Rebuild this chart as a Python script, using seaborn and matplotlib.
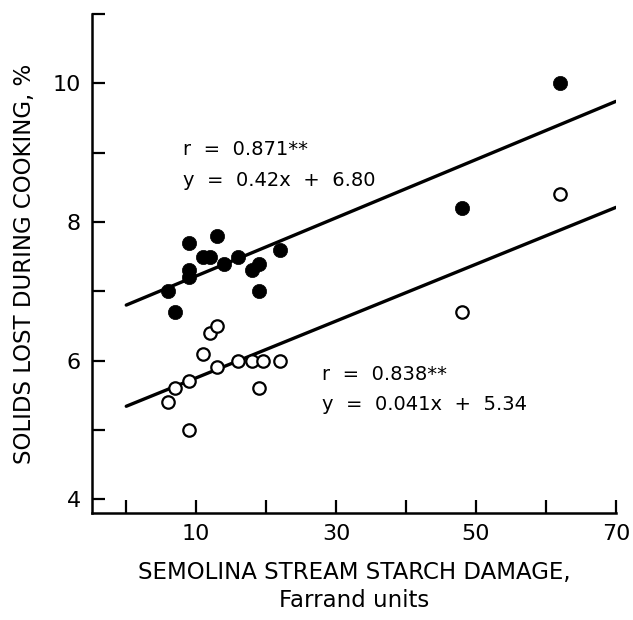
import numpy as np
import pandas as pd
import matplotlib
matplotlib.use("Agg")
import matplotlib.pyplot as plt
import seaborn as sns

# starch damage (Farrand units) and solids lost (%)
filled_x = [6, 7, 9, 9, 9, 11, 12, 13, 14, 16, 18, 19, 19, 22, 48, 62]
filled_y = [7.0, 6.7, 7.7, 7.3, 7.2, 7.5, 7.5, 7.8, 7.4, 7.5, 7.3, 7.4, 7.0, 7.6, 8.2, 10.0]

open_x = [6, 7, 9, 9, 11, 12, 13, 13, 16, 18, 19.5, 22, 19, 48, 62]
open_y = [5.4, 5.6, 5.7, 5.0, 6.1, 6.4, 6.5, 5.9, 6.0, 6.0, 6.0, 6.0, 5.6, 6.7, 8.4]

# fitted lines
fit_x = [0, 70]
upper_slope, upper_icpt = 0.042, 6.80
lower_slope, lower_icpt = 0.041, 5.34

upper_text = "r  =  0.871**\ny  =  0.42x  +  6.80"
lower_text = "r  =  0.838**\ny  =  0.041x  +  5.34"

x_ticks = [0, 10, 20, 30, 40, 50, 60, 70]
x_labels = ["", "10", "", "30", "", "50", "", "70"]
y_ticks = [4, 5, 6, 7, 8, 9, 10, 11]
y_labels = ["4", "", "6", "", "8", "", "10", ""]

sns.set_style("ticks", {"text.color": "black", "axes.labelcolor": "black",
                        "xtick.color": "black", "ytick.color": "black",
                        "axes.edgecolor": "black"})
plt.rcParams["font.family"] = ["DejaVu Sans"]

df_f = pd.DataFrame({"x": filled_x, "y": filled_y})
df_o = pd.DataFrame({"x": open_x, "y": open_y})
fx = np.array(fit_x, dtype=float)
df_line = pd.DataFrame({
    "x": np.concatenate([fx, fx]),
    "y": np.concatenate([upper_slope * fx + upper_icpt, lower_slope * fx + lower_icpt]),
    "g": ["up", "up", "low", "low"],
})

fig = plt.figure(figsize=(6.33, 6.2), dpi=100)
ax = fig.add_axes([0.1453, 0.1726, 0.8278, 0.8048])

sns.lineplot(data=df_line, x="x", y="y", units="g", estimator=None,
             color="black", lw=2.4, ax=ax, legend=False)
sns.scatterplot(data=df_f, x="x", y="y", color="black", s=105,
                edgecolor="black", linewidth=0.5, ax=ax, zorder=3)
sns.scatterplot(data=df_o, x="x", y="y", facecolor="white", s=80,
                edgecolor="black", linewidth=1.6, ax=ax, zorder=3)

ax.set_xlim(-4.9, 70)
ax.set_ylim(3.8, 11.0)
ax.set_xticks(x_ticks)
ax.set_xticklabels(x_labels)
ax.set_yticks(y_ticks)
ax.set_yticklabels(y_labels)
ax.tick_params(direction="in", length=9.5, width=1.6, labelsize=16, pad=8)
for side in ["top", "right"]:
    ax.spines[side].set_visible(False)
for side in ["left", "bottom"]:
    ax.spines[side].set_linewidth(1.8)

ax.set_xlabel("SEMOLINA STREAM STARCH DAMAGE,\nFarrand units", fontsize=16.5,
              linespacing=1.3, labelpad=12)
ax.set_ylabel("SOLIDS LOST DURING COOKING, %", fontsize=16.5, labelpad=12)

ax.text(8.1, 8.82, upper_text, fontsize=14, linespacing=1.75, va="center")
ax.text(28.0, 5.58, lower_text, fontsize=14, linespacing=1.75, va="center")

fig.savefig("out.png", dpi=100)
